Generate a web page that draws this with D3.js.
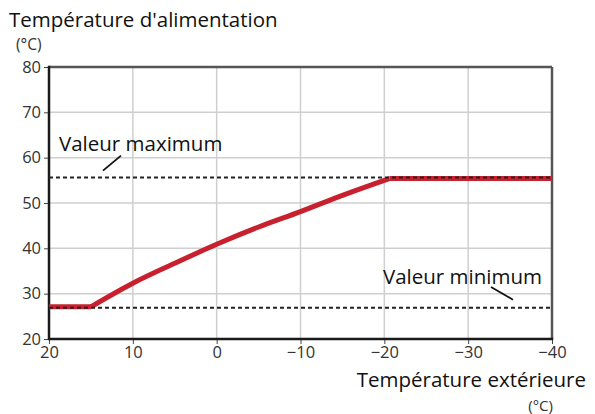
<!DOCTYPE html>
<html>
<head>
<meta charset="utf-8">
<script src="https://cdn.jsdelivr.net/npm/d3@7"></script>
<style>
  body { margin: 0; background: #fff; }
  svg text { font-family: "Open Sans", "Noto Sans", sans-serif; }
</style>
</head>
<body>
<svg id="graph" width="595" height="414"></svg>
<script>
// data
var outdoorTemp = [20, 15, 10, 5, 0, -5, -10, -15, -20.6, -40];
var supplyTemp = [27.1, 27.1, 32.3, 36.7, 40.9, 44.7, 48.1, 51.7, 55.4, 55.4];
var maxValue = 55.6, minValue = 26.9;
var xTicks = [20, 10, 0, -10, -20, -30, -40];
var yTicks = [20, 30, 40, 50, 60, 70, 80];

var margin = {top: 67, left: 49, right: 43, bottom: 75},
	width = 595 - margin.left - margin.right,
	height = 414 - margin.top - margin.bottom,
	graph = d3.select("#graph"),
	g = graph.append("g").attr("transform", "translate(" + margin.left + "," + margin.top + ")");

var x = d3.scaleLinear().domain([20, -40]).range([0, width]),
	y = d3.scaleLinear().domain([20, 80]).range([height, 0]);

//grid
g.append("g").selectAll("line").data(xTicks).enter().append("line")
	.attr("x1", function(d) { return x(d); }).attr("x2", function(d) { return x(d); })
	.attr("y1", 0).attr("y2", height)
	.attr("stroke", "#cfcfcf").attr("stroke-width", 1.5);
g.append("g").selectAll("line").data(yTicks).enter().append("line")
	.attr("y1", function(d) { return y(d); }).attr("y2", function(d) { return y(d); })
	.attr("x1", 0).attr("x2", width)
	.attr("stroke", "#cfcfcf").attr("stroke-width", 1.5);

//axes
var xAxis = d3.axisBottom(x).tickValues(xTicks).tickSize(5).tickPadding(2)
		.tickFormat(function(d) { return d < 0 ? "\u2212" + (-d) : d; }),
	yAxis = d3.axisLeft(y).tickValues(yTicks).tickSize(5).tickPadding(3);

var xa = g.append("g").attr("transform", "translate(0," + height + ")").call(xAxis);
var ya = g.append("g").call(yAxis);
[xa, ya].forEach(function(a) {
	a.select(".domain").remove();
	a.selectAll(".tick line").attr("stroke", "#444").attr("stroke-width", 1);
	a.selectAll(".tick text").attr("fill", "#333").style("font-size", "16.5px");
});

//frame
g.append("line").attr("x1", 0).attr("x2", width).attr("y1", 0).attr("y2", 0)
	.attr("stroke", "#555").attr("stroke-width", 2.5);
g.append("line").attr("x1", width).attr("x2", width).attr("y1", 0).attr("y2", height)
	.attr("stroke", "#555").attr("stroke-width", 2.5);
g.append("line").attr("x1", 0).attr("x2", 0).attr("y1", -1.2).attr("y2", height + 1.2)
	.attr("stroke", "#1a1a1a").attr("stroke-width", 2.5);
g.append("line").attr("x1", 0).attr("x2", width + 1.2).attr("y1", height).attr("y2", height)
	.attr("stroke", "#1a1a1a").attr("stroke-width", 2.5);

//curve: flat start, smooth rise, flat end
var pts = outdoorTemp.map(function(t, i) { return [t, supplyTemp[i]]; });
var n = pts.length;
var straight = d3.line().x(function(d) { return x(d[0]); }).y(function(d) { return y(d[1]); });
var smooth = d3.line().x(function(d) { return x(d[0]); }).y(function(d) { return y(d[1]); })
	.curve(d3.curveMonotoneX);
var curveG = g.append("g").attr("fill", "none").attr("stroke", "#c8202e")
	.attr("stroke-width", 5).attr("stroke-linejoin", "round");
curveG.append("path").attr("d", straight(pts.slice(0, 2)));
curveG.append("path").attr("d", smooth(pts.slice(1, n - 1)));
curveG.append("path").attr("d", straight(pts.slice(n - 2)));

//limits
[maxValue, minValue].forEach(function(v) {
	g.append("line")
		.attr("x1", 0).attr("x2", width)
		.attr("y1", y(v)).attr("y2", y(v))
		.attr("stroke", "#222").attr("stroke-width", 2)
		.attr("stroke-dasharray", "4,3");
});

//annotations
g.append("text").attr("x", 10).attr("y", 84).style("font-size", "20.5px").attr("fill", "#111")
	.text("Valeur maximum");
g.append("line").attr("x1", 54).attr("y1", y(maxValue) - 7).attr("x2", 72).attr("y2", y(maxValue) - 22)
	.attr("stroke", "#111").attr("stroke-width", 1.8);
g.append("text").attr("x", 334).attr("y", 217).style("font-size", "20.5px").attr("fill", "#111")
	.text("Valeur minimum");
g.append("line").attr("x1", 442).attr("y1", 220).attr("x2", 464).attr("y2", y(minValue) - 8)
	.attr("stroke", "#111").attr("stroke-width", 1.8);

//titles
graph.append("text").attr("x", 9).attr("y", 27).style("font-size", "20.5px").attr("fill", "#111")
	.text("Température d'alimentation");
graph.append("text").attr("x", 16).attr("y", 50).style("font-size", "15.5px").attr("fill", "#333")
	.text("(°C)");
graph.append("text").attr("x", 586).attr("y", 387).attr("text-anchor", "end").style("font-size", "20.5px").attr("fill", "#111")
	.text("Température extérieure");
graph.append("text").attr("x", 553).attr("y", 411).attr("text-anchor", "end").style("font-size", "15px").attr("fill", "#333")
	.text("(°C)");
</script>
</body>
</html>
